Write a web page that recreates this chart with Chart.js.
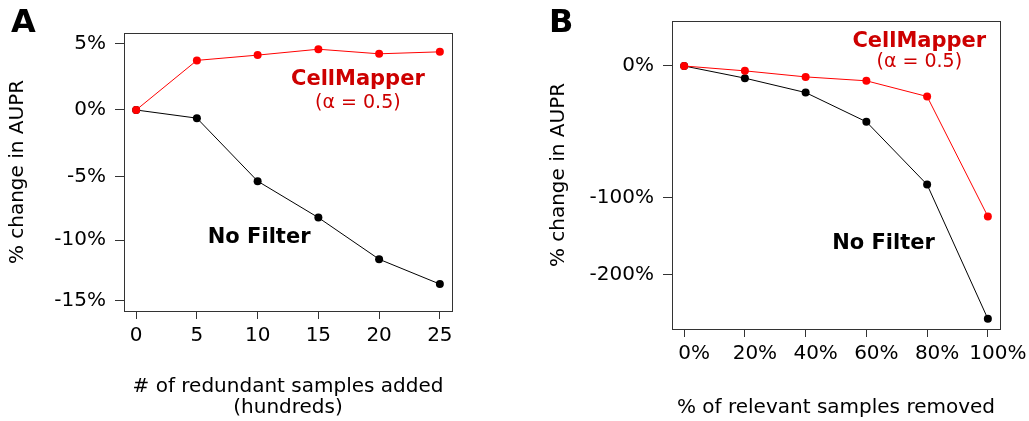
<!DOCTYPE html>
<html>
<head>
<meta charset="utf-8">
<script src="https://cdn.jsdelivr.net/npm/chart.js@4.4.1/dist/chart.umd.min.js"></script>
<style>
  html, body { margin: 0; padding: 0; background: #fff; }
  #wrap { position: relative; width: 1029px; height: 421px; }
  canvas { position: absolute; top: 0; }
  #panelA { left: 0; }
  #panelB { left: 515px; }
</style>
</head>
<body>
<div id="wrap">
  <canvas id="panelA" width="515" height="421"></canvas>
  <canvas id="panelB" width="514" height="421"></canvas>
</div>
<script>
// Panel A: redundant samples added (hundreds)
const samplesAdded = [0, 5, 10, 15, 20, 25];
const cellMapperA = [0, 3.7, 4.1, 4.55, 4.2, 4.35];
const noFilterA = [0, -0.6, -5.35, -8.2, -11.55, -13.6];
const xTicksA = [0, 5, 10, 15, 20, 25];
const xLabelsA = ["0", "5", "10", "15", "20", "25"];
const yTicksA = [5, 0, -5, -10, -15];
const yLabelsA = ["5%", "0%", "-5%", "-10%", "-15%"];
const yLimA = [-15.86, 5.8];

// Panel B: relevant samples removed (%)
const samplesRemoved = [0, 20, 40, 60, 80, 100];
const cellMapperB = [0, -2.6, -5.9, -8.1, -17.4, -120.6];
const noFilterB = [0, -6.6, -15, -34.1, -86.6, -278];
const xTicksB = [0, 20, 40, 60, 80, 100];
const xLabelsB = ["0%", "20%", "40%", "60%", "80%", "100%"];
const yTicksB = [0, -100, -200];
const yLabelsB = ["0%", "-100%", "-200%"];
const yLimB = [-298.8, 26.7];

const FONT = "'DejaVu Sans', sans-serif";
const RED = "#ff0000";
const RED_TEXT = "#cd0000";

// the y axis of both panels is sign(v) * ln(1 + |v|)
const tr = v => Math.sign(v) * Math.log1p(Math.abs(v) / 100);

function frame(letter, letterX, notes) {
  return {
    id: "frame" + letter,
    afterDraw(chart) {
      const { ctx, chartArea: a } = chart;
      const w = a.right - a.left, h = a.bottom - a.top;
      ctx.save();
      ctx.strokeStyle = "#333";
      ctx.lineWidth = 1;
      ctx.strokeRect(Math.round(a.left) + 0.5, Math.round(a.top) + 0.5, Math.round(w), Math.round(h));

      ctx.textBaseline = "alphabetic";
      ctx.textAlign = "center";
      notes.forEach(n => {
        ctx.font = n.font;
        ctx.fillStyle = n.color;
        ctx.fillText(n.text, a.left + n.fx * w, a.top + n.fy * h);
      });

      ctx.textAlign = "left";
      ctx.fillStyle = "#000";
      ctx.font = "bold 32px " + FONT;
      ctx.fillText(letter, letterX, 32);
      ctx.restore();
    }
  };
}

function makePanel(id, o) {
  const axisGrid = { drawOnChartArea: false, drawTicks: true, color: "#333", tickColor: "#333" };
  return new Chart(document.getElementById(id), {
    type: "line",
    data: {
      datasets: [
        {
          label: "CellMapper",
          data: o.xs.map((x, i) => ({ x: x, y: tr(o.red[i]) })),
          borderColor: RED,
          backgroundColor: RED,
          pointBackgroundColor: RED,
          borderWidth: 1,
          pointRadius: 4,
          pointBorderWidth: 0,
          order: 0
        },
        {
          label: "No Filter",
          data: o.xs.map((x, i) => ({ x: x, y: tr(o.black[i]) })),
          borderColor: "#000",
          backgroundColor: "#000",
          pointBackgroundColor: "#000",
          borderWidth: 1,
          pointRadius: 4,
          pointBorderWidth: 0,
          order: 1
        }
      ]
    },
    options: {
      responsive: false,
      animation: false,
      devicePixelRatio: 1,
      layout: { padding: o.padding },
      plugins: { legend: { display: false }, tooltip: { enabled: false } },
      scales: {
        x: {
          type: "linear",
          min: o.xMin,
          max: o.xMax,
          afterBuildTicks: s => { s.ticks = o.xTicks.map(v => ({ value: v })); },
          afterFit: s => { s.height = o.xAxisHeight; },
          grid: Object.assign({ tickLength: 8 }, axisGrid),
          border: { display: false },
          ticks: {
            color: "#000",
            font: { family: FONT, size: 20 },
            padding: 5,
            labelOffset: o.labelOffset,
            maxRotation: 0,
            autoSkip: false,
            callback: (v, i) => o.xLabels[i]
          },
          title: {
            display: true,
            text: o.xTitle,
            color: "#000",
            font: { family: FONT, size: 20, lineHeight: 1.05 },
            padding: { top: 0, bottom: 2.5 }
          }
        },
        y: {
          type: "linear",
          min: tr(o.yLim[0]),
          max: tr(o.yLim[1]),
          afterBuildTicks: s => { s.ticks = o.yTicks.map(v => ({ value: tr(v) })); },
          afterFit: s => { s.width = o.yAxisWidth; },
          grid: Object.assign({ tickLength: 9 }, axisGrid),
          border: { display: false },
          ticks: {
            color: "#000",
            font: { family: FONT, size: 20 },
            padding: 9,
            autoSkip: false,
            callback: (v, i) => o.yLabels[i]
          },
          title: {
            display: true,
            text: "% change in AUPR",
            color: "#000",
            font: { family: FONT, size: 20, lineHeight: 1.05 },
            padding: { top: o.yTitlePad, bottom: 0 }
          }
        }
      }
    },
    plugins: [frame(o.letter, o.letterX, o.notes)]
  });
}

makePanel("panelA", {
  xs: samplesAdded, red: cellMapperA, black: noFilterA,
  xMin: -1, xMax: 26, xTicks: xTicksA, xLabels: xLabelsA, labelOffset: 0,
  yTicks: yTicksA, yLabels: yLabelsA, yLim: yLimA,
  xTitle: ["# of redundant samples added", "(hundreds)"],
  padding: { left: 0, top: 33, right: 63, bottom: 0 },
  yAxisWidth: 124, xAxisHeight: 110, yTitlePad: 7.5,
  letter: "A", letterX: 11,
  notes: [
    { text: "CellMapper", font: "bold 21px " + FONT, color: RED_TEXT, fx: 0.713, fy: 0.187 },
    { text: "(\u03b1 = 0.5)", font: "19px " + FONT, color: RED_TEXT, fx: 0.713, fy: 0.271 },
    { text: "No Filter", font: "bold 21px " + FONT, color: "#000", fx: 0.412, fy: 0.757 }
  ]
});

makePanel("panelB", {
  xs: samplesRemoved, red: cellMapperB, black: noFilterB,
  xMin: -4, xMax: 104, xTicks: xTicksB, xLabels: xLabelsB, labelOffset: 10,
  yTicks: yTicksB, yLabels: yLabelsB, yLim: yLimB,
  xTitle: "% of relevant samples removed",
  padding: { left: 0, top: 17, right: 29, bottom: 0 },
  yAxisWidth: 157, xAxisHeight: 92, yTitlePad: 33,
  letter: "B", letterX: 34,
  notes: [
    { text: "CellMapper", font: "bold 21px " + FONT, color: RED_TEXT, fx: 0.754, fy: 0.085 },
    { text: "(\u03b1 = 0.5)", font: "19px " + FONT, color: RED_TEXT, fx: 0.754, fy: 0.150 },
    { text: "No Filter", font: "bold 21px " + FONT, color: "#000", fx: 0.645, fy: 0.741 }
  ]
});
</script>
</body>
</html>
